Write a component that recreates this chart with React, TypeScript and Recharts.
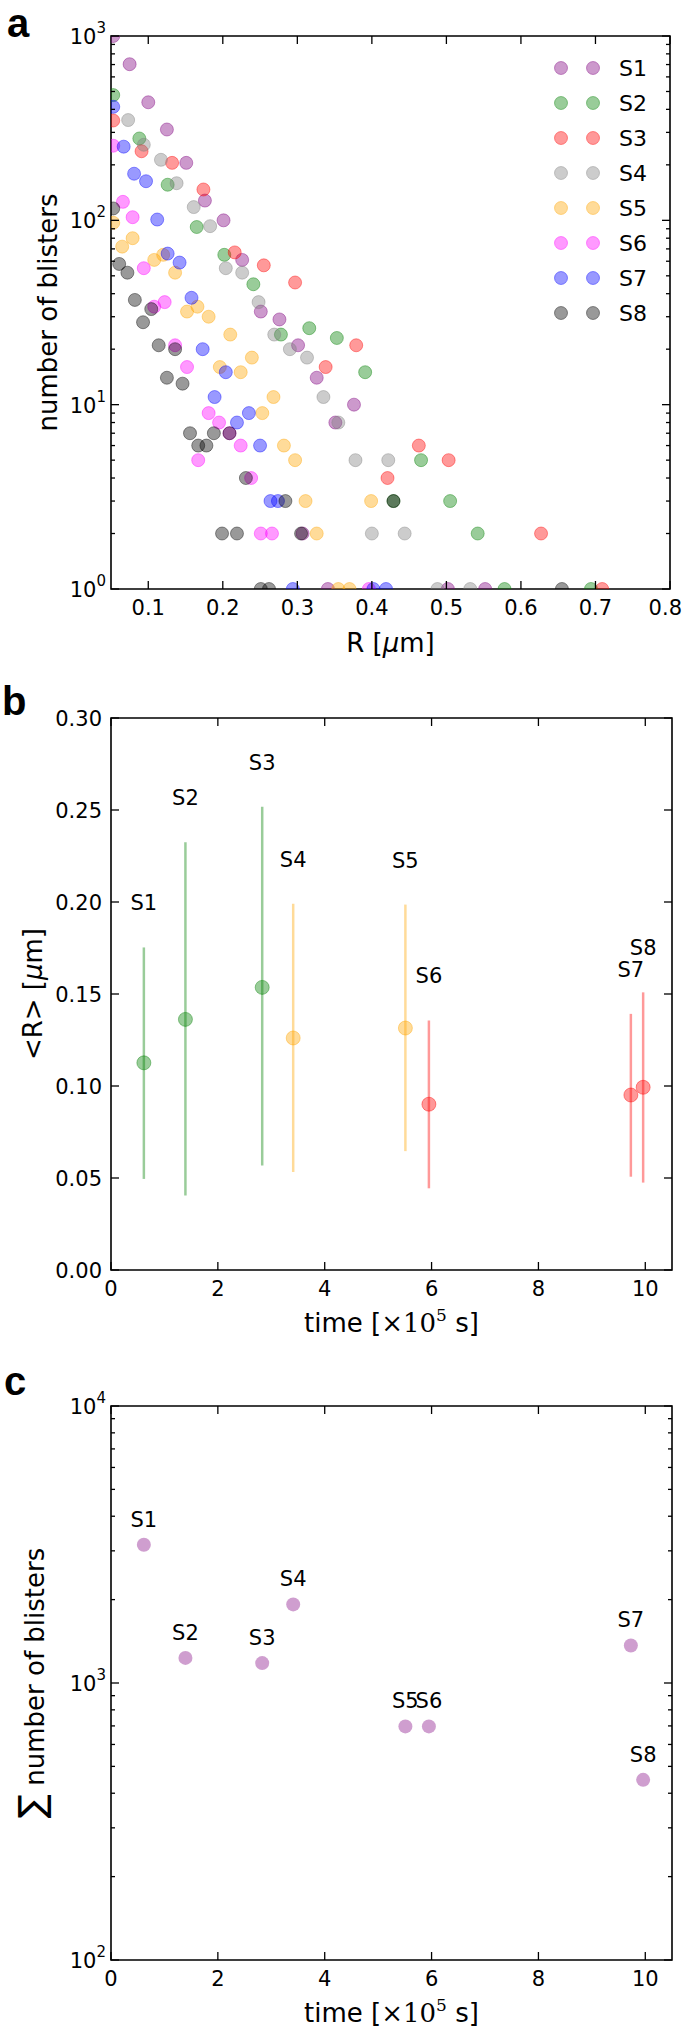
import React from "react";
import { ScatterChart, Scatter, XAxis, YAxis, ReferenceArea, ErrorBar, Legend, Label } from "recharts";

const FONT = "'DejaVu Sans', 'Noto Sans', sans-serif";
const SERIF = "'DejaVu Serif', 'Liberation Serif', serif";

const sampleNames = ["S1", "S2", "S3", "S4", "S5", "S6", "S7", "S8"];
const sampleColors = ["#800080", "#008000", "#ff0000", "#808080", "#ffa500", "#ff00ff", "#0000ff", "#000000"];

// panel a: [R (um), number of blisters]
const S1 = [[0.053, 1000], [0.075, 703], [0.1, 437], [0.125, 311], [0.151, 205], [0.176, 128], [0.201, 100], [0.226, 61], [0.251, 32], [0.276, 29], [0.301, 21], [0.326, 14], [0.351, 8], [0.376, 10], [0.307, 2], [0.341, 1], [0.502, 1], [0.552, 1]];
const S2 = [[0.053, 478], [0.088, 278], [0.126, 156], [0.165, 92], [0.202, 65], [0.241, 45], [0.278, 24], [0.316, 26], [0.353, 23], [0.391, 15], [0.466, 5], [0.429, 3], [0.505, 3], [0.542, 2], [0.578, 1], [0.694, 1]];
const S3 = [[0.053, 348], [0.091, 237], [0.132, 205], [0.174, 147], [0.216, 67], [0.255, 57], [0.297, 46], [0.338, 16], [0.379, 21], [0.421, 4], [0.463, 6], [0.503, 5], [0.627, 2], [0.709, 1]];
const S4 = [[0.073, 350], [0.094, 257], [0.117, 213], [0.138, 159], [0.161, 118], [0.183, 93], [0.204, 55], [0.226, 52], [0.248, 36], [0.269, 24], [0.29, 20], [0.313, 18], [0.335, 11], [0.355, 8], [0.378, 5], [0.422, 5], [0.4, 2], [0.444, 2], [0.488, 1], [0.532, 1]];
const S5 = [[0.053, 97], [0.065, 72], [0.079, 80], [0.108, 61], [0.12, 65], [0.136, 52], [0.152, 32], [0.166, 34], [0.181, 30], [0.196, 16], [0.21, 24], [0.224, 15], [0.239, 18], [0.253, 9], [0.268, 11], [0.282, 6], [0.297, 5], [0.311, 3], [0.399, 3], [0.326, 2], [0.355, 1], [0.37, 1]];
const S6 = [[0.053, 254], [0.066, 126], [0.079, 104], [0.094, 55], [0.108, 34], [0.122, 36], [0.136, 21], [0.152, 16], [0.167, 5], [0.181, 9], [0.195, 8], [0.209, 7], [0.224, 6], [0.238, 4], [0.251, 2], [0.266, 2], [0.396, 1]];
const S7 = [[0.053, 413], [0.067, 251], [0.081, 179], [0.097, 163], [0.112, 101], [0.126, 66], [0.142, 59], [0.158, 38], [0.173, 20], [0.189, 11], [0.204, 15], [0.219, 8], [0.235, 9], [0.25, 6], [0.264, 3], [0.274, 3], [0.294, 1], [0.402, 1], [0.419, 1]];
const S8 = [[0.053, 116], [0.061, 58], [0.072, 52], [0.082, 37], [0.093, 28], [0.104, 33], [0.114, 21], [0.136, 20], [0.125, 14], [0.146, 13], [0.156, 7], [0.167, 6], [0.178, 6], [0.188, 7], [0.209, 7], [0.231, 4], [0.284, 3], [0.429, 3], [0.199, 2], [0.219, 2], [0.305, 2], [0.251, 1], [0.262, 1], [0.655, 1]];
const sizeDists = [S1, S2, S3, S4, S5, S6, S7, S8];

const rTicks = [0.1, 0.2, 0.3, 0.4, 0.5, 0.6, 0.7, 0.8];
const countTicks = [1, 2, 3, 4, 5, 6, 7, 8, 9, 10, 20, 30, 40, 50, 60, 70, 80, 90, 100, 200, 300, 400, 500, 600, 700, 800, 900, 1000];

// panels b and c
const sampleTime = [0.615, 1.393, 2.83, 3.41, 5.51, 5.95, 9.73, 9.96];
const meanR = [0.1126, 0.1362, 0.1536, 0.1261, 0.1315, 0.0901, 0.0951, 0.0993];
const lowR = [0.0495, 0.0405, 0.0568, 0.0532, 0.0646, 0.0444, 0.0507, 0.0475];
const highR = [0.1753, 0.2325, 0.2518, 0.199, 0.1986, 0.1356, 0.1392, 0.1509];
const meanColors = ["#008000", "#008000", "#008000", "#ffa500", "#ffa500", "#ff0000", "#ff0000", "#ff0000"];
const totalBlisters = [3155, 1232, 1180, 1922, 697, 697, 1366, 447];

const timeTicks = [0, 2, 4, 6, 8, 10];
const meanTicks = [0, 0.05, 0.1, 0.15, 0.2, 0.25, 0.3];
const totalTicks = [100, 200, 300, 400, 500, 600, 700, 800, 900, 1000, 2000, 3000, 4000, 5000, 6000, 7000, 8000, 9000, 10000];

const W = 685;
const LEFT = 111;

function xTick(plotH: number, fmt: (v: number) => string, endAt?: number) {
  return (props: any) => {
    const { x, y, payload } = props;
    const atEnd = endAt !== undefined && payload.value === endAt;
    return (
      <g>
        <line x1={x} x2={x} y1={y} y2={y - 8} stroke="#000" strokeWidth={1.3} />
        <line x1={x} x2={x} y1={y - plotH} y2={y - plotH + 8} stroke="#000" strokeWidth={1.3} />
        <text x={atEnd ? x + 12 : x} y={y + 26} textAnchor={atEnd ? "end" : "middle"} fontFamily={FONT} fontSize={21} fill="#000">
          {fmt(payload.value)}
        </text>
      </g>
    );
  };
}

function yTick(plotW: number, kind: "log" | "lin") {
  return (props: any) => {
    const { x, y, payload } = props;
    const v = payload.value as number;
    const e = kind === "log" ? Math.log10(v) : 0;
    const major = kind === "lin" || Math.abs(e - Math.round(e)) < 1e-6;
    const len = major ? 8 : 4;
    return (
      <g>
        <line x1={x} x2={x + len} y1={y} y2={y} stroke="#000" strokeWidth={1.3} />
        <line x1={x + plotW} x2={x + plotW - len} y1={y} y2={y} stroke="#000" strokeWidth={1.3} />
        {kind === "lin" && (
          <text x={x - 9} y={y + 8} textAnchor="end" fontFamily={FONT} fontSize={21} fill="#000">
            {v.toFixed(2)}
          </text>
        )}
        {kind === "log" && major && (
          <text x={x - 5} y={y + 8} textAnchor="end" fontFamily={FONT} fontSize={21} fill="#000">
            <tspan>10</tspan>
            <tspan dy={-11} fontSize={15}>{Math.round(e)}</tspan>
          </text>
        )}
      </g>
    );
  };
}

const PanelLetter = ({ x, y, ch }: { x: number; y: number; ch: string }) => (
  <text x={x} y={y} fontFamily="'Liberation Sans', Arial, sans-serif" fontWeight="bold" fontSize={40} fill="#000">
    {ch}
  </text>
);

const TimeTitle = ({ cx, y }: { cx: number; y: number }) => (
  <text x={cx} y={y} textAnchor="middle" fontFamily={FONT} fontSize={26} fill="#000">
    <tspan>time [</tspan>
    <tspan fontFamily={SERIF}>×10</tspan>
    <tspan fontFamily={SERIF} fontSize={17} dy={-11}>5</tspan>
    <tspan dy={11}> s]</tspan>
  </text>
);

const LegendA = () => (
  <svg width={130} height={290}>
    {sampleNames.map((n, i) => {
      const cy = 20 + 35 * i;
      const c = sampleColors[i];
      return (
        <g key={n}>
          <circle cx={16} cy={cy} r={6.5} fill={c} fillOpacity={0.4} stroke={c} strokeOpacity={0.4} />
          <circle cx={48} cy={cy} r={6.5} fill={c} fillOpacity={0.4} stroke={c} strokeOpacity={0.4} />
          <text x={74} y={cy + 8} fontFamily={FONT} fontSize={22} fill="#000">{n}</text>
        </g>
      );
    })}
  </svg>
);

function PanelA() {
  const top = 36, plotH = 553, right = 15, H = 665;
  const plotW = W - LEFT - right;
  return (
    <ScatterChart width={W} height={H} margin={{ top, right, bottom: 0, left: 0 }}>
      <XAxis type="number" dataKey="r" domain={[0.05, 0.8]} ticks={rTicks} interval={0} allowDataOverflow
        tickSize={0} tickMargin={0} axisLine={false} tickLine={false} height={H - top - plotH}
        tick={xTick(plotH, (v) => v.toFixed(1), 0.8)}>
        <Label content={() => (
          <text x={LEFT + plotW / 2} y={top + plotH + 63} textAnchor="middle" fontFamily={FONT} fontSize={26} fill="#000">
            <tspan>R [</tspan><tspan fontStyle="italic">μ</tspan><tspan>m]</tspan>
          </text>
        )} />
      </XAxis>
      <YAxis type="number" dataKey="n" scale="log" domain={[1, 1000]} ticks={countTicks} interval={0} allowDataOverflow
        width={LEFT} tickSize={0} tickMargin={0} axisLine={false} tickLine={false} tick={yTick(plotW, "log")}>
        <Label content={() => (
          <g>
            <PanelLetter x={7} y={37} ch="a" />
            <text x={57} y={top + plotH / 2} transform={`rotate(-90 57 ${top + plotH / 2})`} textAnchor="middle"
              fontFamily={FONT} fontSize={26} fill="#000">number of blisters</text>
          </g>
        )} />
      </YAxis>
      <ReferenceArea x1={0.05} x2={0.8} y1={1} y2={1000} fill="none" stroke="#000" strokeWidth={1.6} />
      {sizeDists.map((pts, i) => (
        <Scatter key={sampleNames[i]} name={sampleNames[i]} data={pts.map(([r, n]) => ({ r, n }))}
          isAnimationActive={false}
          shape={(p: any) => (
            <circle cx={p.cx} cy={p.cy} r={6.5} fill={sampleColors[i]} fillOpacity={0.4}
              stroke={sampleColors[i]} strokeOpacity={0.4} />
          )} />
      ))}
      <Legend layout="vertical" align="center" verticalAlign="middle"
        wrapperStyle={{ left: 545, top: 48, width: 130 }} content={() => <LegendA />} />
    </ScatterChart>
  );
}

function PanelB() {
  const top = 53, plotH = 552, right = 13, H = 680;
  const plotW = W - LEFT - right;
  return (
    <ScatterChart width={W} height={H} margin={{ top, right, bottom: 0, left: 0 }}>
      <XAxis type="number" dataKey="t" domain={[0, 10.5]} ticks={timeTicks} interval={0}
        tickSize={0} tickMargin={0} axisLine={false} tickLine={false} height={H - top - plotH}
        tick={xTick(plotH, (v) => String(v))}>
        <Label content={() => <TimeTitle cx={LEFT + plotW / 2} y={top + plotH + 62} />} />
      </XAxis>
      <YAxis type="number" dataKey="v" domain={[0, 0.3]} ticks={meanTicks} interval={0}
        width={LEFT} tickSize={0} tickMargin={0} axisLine={false} tickLine={false} tick={yTick(plotW, "lin")}>
        <Label content={() => (
          <g>
            <PanelLetter x={2} y={50} ch="b" />
            <text x={42} y={top + plotH / 2} transform={`rotate(-90 42 ${top + plotH / 2})`} textAnchor="middle"
              fontFamily={FONT} fontSize={26} fill="#000">
              <tspan>&lt;R&gt; [</tspan><tspan fontStyle="italic">μ</tspan><tspan>m]</tspan>
            </text>
          </g>
        )} />
      </YAxis>
      <ReferenceArea x1={0} x2={10.5} y1={0} y2={0.3} fill="none" stroke="#000" strokeWidth={1.6} />
      {sampleNames.map((n, i) => (
        <Scatter key={n} name={n}
          data={[{ t: sampleTime[i], v: meanR[i], err: [meanR[i] - lowR[i], highR[i] - meanR[i]] }]}
          isAnimationActive={false}
          shape={(p: any) => (
            <circle cx={p.cx} cy={p.cy} r={7} fill={meanColors[i]} fillOpacity={0.4}
              stroke={meanColors[i]} strokeOpacity={0.4} />
          )}>
          <ErrorBar dataKey="err" direction="y" width={0} stroke={meanColors[i]} strokeOpacity={0.4} strokeWidth={2.5} />
        </Scatter>
      ))}
      <Scatter name="labels" data={sampleNames.map((n, i) => ({ t: sampleTime[i], v: highR[i], tag: n }))}
        isAnimationActive={false}
        shape={(p: any) => (
          <text x={p.cx} y={p.cy - 37} textAnchor="middle" fontFamily={FONT} fontSize={21} fill="#000">
            {p.payload.tag}
          </text>
        )} />
    </ScatterChart>
  );
}

function PanelC() {
  const top = 61, plotH = 554, right = 13, H = 684;
  const plotW = W - LEFT - right;
  return (
    <ScatterChart width={W} height={H} margin={{ top, right, bottom: 0, left: 0 }}>
      <XAxis type="number" dataKey="t" domain={[0, 10.5]} ticks={timeTicks} interval={0}
        tickSize={0} tickMargin={0} axisLine={false} tickLine={false} height={H - top - plotH}
        tick={xTick(plotH, (v) => String(v))}>
        <Label content={() => <TimeTitle cx={LEFT + plotW / 2} y={top + plotH + 62} />} />
      </XAxis>
      <YAxis type="number" dataKey="v" scale="log" domain={[100, 10000]} ticks={totalTicks} interval={0}
        width={LEFT} tickSize={0} tickMargin={0} axisLine={false} tickLine={false} tick={yTick(plotW, "log")}>
        <Label content={() => (
          <g>
            <PanelLetter x={4} y={50} ch="c" />
            <text x={44} y={top + plotH / 2} transform={`rotate(-90 44 ${top + plotH / 2})`} textAnchor="middle"
              fontFamily={FONT} fontSize={26} fill="#000">
              <tspan fontSize={36}>∑</tspan><tspan> number of blisters</tspan>
            </text>
          </g>
        )} />
      </YAxis>
      <ReferenceArea x1={0} x2={10.5} y1={100} y2={10000} fill="none" stroke="#000" strokeWidth={1.6} />
      <Scatter name="total" data={sampleNames.map((n, i) => ({ t: sampleTime[i], v: totalBlisters[i], tag: n }))}
        isAnimationActive={false}
        shape={(p: any) => (
          <g>
            <circle cx={p.cx} cy={p.cy} r={7} fill="#800080" fillOpacity={0.38} />
            <text x={p.cx} y={p.cy - 18} textAnchor="middle" fontFamily={FONT} fontSize={21} fill="#000">
              {p.payload.tag}
            </text>
          </g>
        )} />
    </ScatterChart>
  );
}

export default function App() {
  return (
    <div style={{ position: "absolute", left: 0, top: 0, width: W, height: 2029, background: "#fff" }}>
      <div style={{ position: "absolute", left: 0, top: 0 }}><PanelA /></div>
      <div style={{ position: "absolute", left: 0, top: 665 }}><PanelB /></div>
      <div style={{ position: "absolute", left: 0, top: 1345 }}><PanelC /></div>
    </div>
  );
}
